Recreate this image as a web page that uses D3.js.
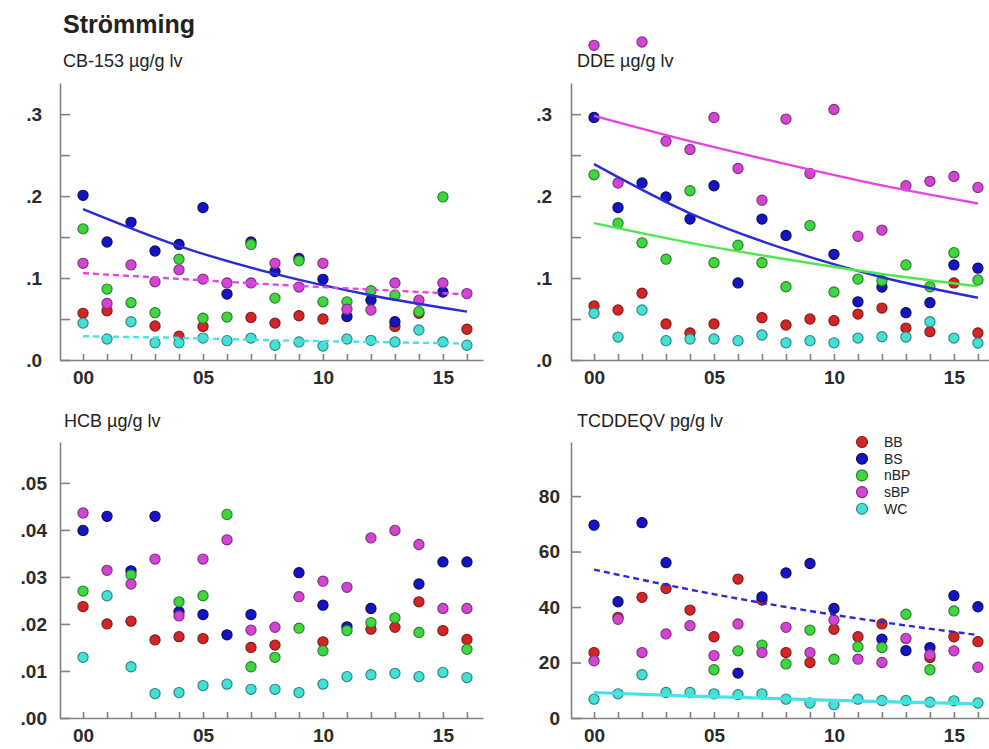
<!DOCTYPE html>
<html>
<head>
<meta charset="utf-8">
<script src="https://cdn.jsdelivr.net/npm/d3@7"></script>
<style>
  html, body { margin: 0; padding: 0; background: #fff; }
  svg { display: block; font-family: "Liberation Sans", Arial, Helvetica, sans-serif; }
</style>
</head>
<body>
<svg id="chart" width="989" height="749"></svg>
<script>
// ---------------- DATA ----------------
const years = [2000,2001,2002,2003,2004,2005,2006,2007,2008,2009,2010,2011,2012,2013,2014,2015,2016];
const xTickLabels = ["00","05","10","15"];
const seriesNames = ["BB","BS","nBP","sBP","WC"];
const mainTitle = "Strömming";

// CB-153 µg/g lv
const cb153_BB  = [0.057,0.060,null,0.0415,0.029,0.041,null,0.052,0.045,0.054,0.050,null,null,0.041,0.057,null,0.0375];
const cb153_BS  = [0.201,0.144,0.168,0.133,0.141,0.186,0.0805,0.144,0.108,0.124,0.0985,0.053,0.073,0.0467,null,0.083,null];
const cb153_nBP = [0.160,0.0866,0.070,0.0577,0.123,0.051,0.0524,0.141,0.0755,0.121,0.071,0.071,0.0845,0.079,0.059,0.199,null];
const cb153_sBP = [0.118,0.069,0.116,0.0955,0.110,0.0988,0.094,0.094,0.118,0.089,0.118,0.062,0.061,0.094,0.073,0.094,0.081];
const cb153_WC  = [0.045,0.0256,0.0467,0.021,0.021,0.0268,0.0236,0.0268,0.018,0.022,0.017,0.0256,0.024,0.022,0.0366,0.022,0.018];

// DDE µg/g lv
const dde_BB  = [0.066,0.061,0.0815,0.044,0.033,0.044,null,0.0516,0.0427,0.050,0.048,0.056,0.0634,0.039,0.0346,0.094,0.033];
const dde_BS  = [0.296,0.186,0.216,0.199,0.172,0.2126,0.094,0.172,0.152,null,0.129,0.071,0.089,0.0577,0.070,0.116,0.112];
const dde_nBP = [0.226,0.167,0.143,0.123,0.2065,0.1187,0.140,0.1187,0.0894,0.164,0.083,0.0988,0.0967,0.116,0.0894,0.131,0.0976];
const dde_sBP = [0.384,0.216,0.388,0.267,0.257,0.296,0.2337,0.195,0.294,0.2276,0.3057,0.151,0.1585,0.2126,0.218,0.224,0.2106];
const dde_WC  = [0.057,0.028,0.061,0.0236,0.0256,0.0256,0.0236,0.0305,0.021,0.0236,0.021,0.0268,0.0284,0.028,0.0467,0.0268,0.0207];

// HCB µg/g lv
const hcb_BB  = [0.0237,0.0200,0.0206,0.0166,0.0173,0.0169,null,0.0150,0.0155,null,0.0162,null,0.0189,0.0193,0.0247,0.0186,0.0167];
const hcb_BS  = [0.0399,0.0429,0.0313,0.0429,0.0226,0.0220,0.0177,0.0220,null,0.0309,0.0240,0.0194,0.0233,null,0.0285,0.0332,0.0332];
const hcb_nBP = [0.0270,null,0.0304,null,0.0247,0.0260,0.0433,0.0109,0.0129,0.0191,0.0143,0.0186,0.0203,0.0213,0.0182,null,0.0146];
const hcb_sBP = [0.0436,0.0314,0.0285,0.0338,0.0217,0.0338,0.0379,0.0187,0.0193,0.0258,0.0291,0.0278,0.0383,0.0399,0.0369,0.0233,0.0233];
const hcb_WC  = [0.0129,0.0260,0.0109,0.0052,0.0054,0.0069,0.0072,0.0061,0.0061,0.0054,0.0072,0.0088,0.0092,0.0095,0.0088,0.0097,0.0086];

// TCDDEQV pg/g lv
const tcdd_BB  = [23.6,36.3,43.5,46.7,38.9,29.3,50.1,42.5,23.6,20.0,32.0,29.3,33.9,null,21.8,29.3,27.5];
const tcdd_BS  = [69.5,41.9,70.4,56.0,null,null,16.2,43.7,52.3,55.7,39.5,null,28.4,24.3,25.4,44.1,40.1];
const tcdd_nBP = [null,null,null,null,null,17.4,24.2,26.3,19.5,31.7,21.2,25.7,25.4,37.4,17.4,38.6,null];
const tcdd_sBP = [20.6,35.6,23.6,30.3,33.3,22.5,33.9,23.6,32.7,23.6,35.3,21.2,20.0,28.7,22.8,24.2,18.3];
const tcdd_WC  = [6.8,8.7,15.6,9.2,9.2,8.7,8.4,8.7,6.8,5.4,4.8,6.8,6.3,6.3,5.7,6.2,5.4];

// Trend lines (values read at these years)
const trendYears = [2000,2004,2008,2012,2016];
const cb153_trend_BS  = [0.184,0.139,0.105,0.079,0.059];
const cb153_trend_sBP = [0.106,0.099,0.092,0.086,0.080];
const cb153_trend_WC  = [0.029,0.027,0.024,0.022,0.020];
const dde_trend_sBP   = [0.298,0.267,0.239,0.213,0.191];
const dde_trend_BS    = [0.239,0.179,0.135,0.101,0.076];
const dde_trend_nBP   = [0.167,0.143,0.123,0.105,0.090];
const tcdd_trend_BS   = [53.5,46.3,40.0,34.6,29.9];
const tcdd_trend_WC   = [9.2,7.9,6.9,5.9,5.1];

// Y ticks
const yTicksA = [0,0.1,0.2,0.3];       const yLabelsA = [".0",".1",".2",".3"];
const yMinorA = [0.05,0.15,0.25];
const yTicksH = [0,0.01,0.02,0.03,0.04,0.05]; const yLabelsH = [".00",".01",".02",".03",".04",".05"];
const yTicksT = [0,20,40,60,80];        const yLabelsT = ["0","20","40","60","80"];

// ---------------- STYLE ----------------
const fillColors   = {BB:"#d42424", BS:"#1414c4", nBP:"#3ed83e", sBP:"#d444d4", WC:"#44e0d4"};
const strokeColors = {BB:"#7a1a1a", BS:"#0a0a55", nBP:"#2a7a2a", sBP:"#7a307a", WC:"#2a8080"};
const lineColors   = {BS:"#2a2ad6", sBP:"#e444e4", nBP:"#4ee84e", WC:"#44e4e4"};

const svg = d3.select("#chart");
svg.append("rect").attr("width",989).attr("height",749).attr("fill","#fff");

svg.append("text").attr("x",63).attr("y",33)
  .attr("font-size",25).attr("font-weight","bold").attr("fill","#222")
  .text(mainTitle);

const panels = [
  {title:"CB-153 µg/g lv", tx:63, ty:67, axX:60, top:83, bottom:360, ymax:0.338,
   ticks:yTicksA, labels:yLabelsA, minor:yMinorA, pad:18,
   data:{BB:cb153_BB,BS:cb153_BS,nBP:cb153_nBP,sBP:cb153_sBP,WC:cb153_WC},
   trends:[{s:"BS",v:cb153_trend_BS,dash:false},{s:"sBP",v:cb153_trend_sBP,dash:true},{s:"WC",v:cb153_trend_WC,dash:true}]},
  {title:"DDE µg/g lv", tx:577, ty:67, axX:571, top:83, bottom:360, ymax:0.338,
   ticks:yTicksA, labels:yLabelsA, minor:yMinorA, pad:19,
   data:{BB:dde_BB,BS:dde_BS,nBP:dde_nBP,sBP:dde_sBP,WC:dde_WC},
   trends:[{s:"sBP",v:dde_trend_sBP,dash:false},{s:"BS",v:dde_trend_BS,dash:false},{s:"nBP",v:dde_trend_nBP,dash:false}]},
  {title:"HCB µg/g lv", tx:64, ty:427, axX:60, top:442, bottom:718, ymax:0.0587,
   ticks:yTicksH, labels:yLabelsH, minor:[], pad:13,
   data:{BB:hcb_BB,BS:hcb_BS,nBP:hcb_nBP,sBP:hcb_sBP,WC:hcb_WC},
   trends:[]},
  {title:"TCDDEQV pg/g lv", tx:577, ty:427, axX:571, top:442, bottom:718, ymax:99.5,
   ticks:yTicksT, labels:yLabelsT, minor:[], pad:11,
   data:{BB:tcdd_BB,BS:tcdd_BS,nBP:tcdd_nBP,sBP:tcdd_sBP,WC:tcdd_WC},
   trends:[{s:"BS",v:tcdd_trend_BS,dash:true},{s:"WC",v:tcdd_trend_WC,dash:false,w:3.2}],
   legend:true}
];

panels.forEach(p => {
  const g = svg.append("g");
  const x = d3.scaleLinear().domain([1999.04, 2016.67]).range([p.axX, p.axX + 423]);
  const y = d3.scaleLinear().domain([0, p.ymax]).range([p.bottom, p.top]);

  g.append("text").attr("x",p.tx).attr("y",p.ty).attr("font-size",18).attr("fill","#222").text(p.title);

  // x axis
  g.append("g").attr("transform",`translate(0,${p.bottom})`)
    .call(d3.axisBottom(x).tickValues(years).tickSizeInner(-6).tickSizeOuter(0).tickPadding(11)
      .tickFormat(d => (d % 5 === 0) ? xTickLabels[(d - 2000) / 5] : ""));
  // y axis
  g.append("g").attr("transform",`translate(${p.axX},0)`)
    .call(d3.axisLeft(y).tickValues(p.ticks).tickSizeInner(-10).tickSizeOuter(0).tickPadding(p.pad)
      .tickFormat((d,i) => p.labels[i]));
  if (p.minor.length) {
    g.append("g").attr("transform",`translate(${p.axX},0)`)
      .call(d3.axisLeft(y).tickValues(p.minor).tickSizeInner(-10).tickSizeOuter(0).tickFormat(""))
      .select(".domain").remove();
  }
  g.selectAll(".domain, .tick line").attr("stroke","#808080").attr("stroke-width",1.6);
  g.selectAll(".tick text").attr("font-size",19).attr("font-weight","bold").attr("fill","#2a2a2a")
    .attr("font-family","'Liberation Sans', Arial, sans-serif");

  // points
  seriesNames.forEach(s => {
    const vals = p.data[s];
    const pts = years.map((yr,i) => ({yr, v: vals[i]})).filter(d => d.v !== null);
    g.selectAll(null).data(pts).join("circle")
      .attr("cx", d => x(d.yr)).attr("cy", d => y(d.v)).attr("r",5.1)
      .attr("fill", fillColors[s]).attr("stroke", strokeColors[s]).attr("stroke-width",1.1);
  });

  // trend lines
  p.trends.forEach(t => {
    const line = d3.line().x(d => x(d[0])).y(d => y(d[1])).curve(d3.curveMonotoneX);
    g.append("path").datum(trendYears.map((yr,i) => [yr, t.v[i]]))
      .attr("d", line).attr("fill","none")
      .attr("stroke", lineColors[t.s]).attr("stroke-width", t.w || 2.4)
      .attr("stroke-dasharray", t.dash ? "6,4" : null);
  });

  if (p.legend) {
    const lg = g.append("g");
    seriesNames.forEach((s,i) => {
      const cy = 442 + i * 16.7;
      lg.append("circle").attr("cx",862).attr("cy",cy).attr("r",5.5)
        .attr("fill",fillColors[s]).attr("stroke",strokeColors[s]).attr("stroke-width",1.1);
      lg.append("text").attr("x",884).attr("y",cy).attr("dy","0.35em")
        .attr("font-size",14).attr("fill","#222").text(s);
    });
  }
});
</script>
</body>
</html>
